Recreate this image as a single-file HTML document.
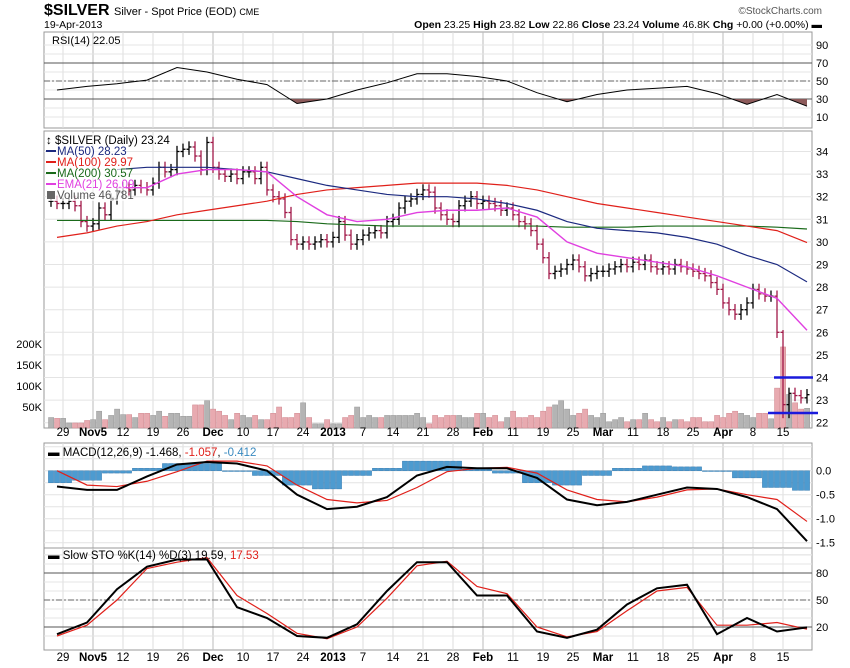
<!DOCTYPE html>
<html><head><meta charset="utf-8">
<style>
body{margin:0;background:#fff;width:850px;height:668px;overflow:hidden;font-family:"Liberation Sans",sans-serif}
svg{display:block}
text{font-family:"Liberation Sans",sans-serif}
</style></head>
<body>
<svg id="chart" width="850" height="668" viewBox="0 0 850 668" xmlns="http://www.w3.org/2000/svg">
<text x="44" y="15" font-size="16" font-weight="bold" fill="#000">$SILVER</text>
<text x="114" y="15" font-size="11" fill="#000">Silver - Spot Price (EOD) <tspan font-size="9">CME</tspan></text>
<text x="44" y="28" font-size="10.5" fill="#000">19-Apr-2013</text>
<text x="822" y="14" font-size="10" fill="#555" text-anchor="end">©StockCharts.com</text>
<text x="822" y="28" font-size="10.5" fill="#000" text-anchor="end"><tspan font-weight="bold">Open</tspan> 23.25 <tspan font-weight="bold">High</tspan> 23.82 <tspan font-weight="bold">Low</tspan> 22.86 <tspan font-weight="bold">Close</tspan> 23.24 <tspan font-weight="bold">Volume</tspan> 46.8K <tspan font-weight="bold">Chg</tspan> +0.00 (+0.00%) ▬</text>
</svg>
<script>
// ---- data ----
const closes=[31.8,31.7,
31.7,31.8,31.6,30.9,30.7,
30.8,31.5,31.2,31.9,32.2,
32.4,32.3,32.5,32.4,32.3,
32.6,33.3,33.1,33.2,34.0,
34.1,34.2,33.8,33.2,34.4,
33.3,33.0,32.9,33.0,32.8,
33.1,33.1,32.8,33.3,32.3,
32.0,31.9,31.3,30.1,29.9,
30.0,29.9,30.0,30.1,30.0,
30.2,30.9,30.3,29.9,30.1,
30.3,30.4,30.5,30.4,30.9,
31.0,31.5,31.8,31.9,32.1,
32.3,32.2,31.5,31.2,31.0,
30.9,31.6,31.8,32.0,31.7,
31.8,31.7,31.6,31.4,31.5,
31.2,30.9,30.8,30.5,29.9,
29.3,28.6,28.7,28.8,29.0,
29.2,28.9,28.5,28.6,28.7,
28.7,28.8,28.9,29.0,28.9,
29.1,29.0,29.2,28.9,28.8,
28.9,28.8,29.0,28.9,28.8,
28.7,28.6,28.5,28.2,27.9,
27.3,27.0,26.8,27.0,27.3,
27.9,27.7,27.6,27.6,26.0,
22.8,23.3,23.2,23.1,23.24];
const volumes=[25,23,
23,12,12,12,18, 20,40,20,30,45, 32,32,25,35,35, 30,40,28,35,35, 28,28,55,55,65,
45,40,30,20,35, 30,25,30,20,20, 35,50,25,25,35, 60,25,10,10,20, 10,10,25,30,50,
25,30,25,25,30, 30,30,30,30,35, 25,10,30,25,30, 30,30,25,25,35, 35,25,30,15,25,
40,25,25,30,25, 40,50,55,65,45, 30,35,45,30,25, 35,15,20,25,15, 20,20,35,20,15,
25,15,20,20,15, 25,25,15,15,30, 25,35,40,35,30, 25,35,35,22,95, 193,80,60,45,47];
const weekLabels=["29","Nov5","12","19","26","Dec","10","17","24","2013","7","14","21","28","Feb","11","19","25","Mar","11","18","25","Apr","8","15"];
const boldLabels=["Nov5","Dec","2013","Feb","Mar","Apr"];
// weekly sampled indicator values (every 5 bars from bar 1)
const ma50=[null,null,33.2,33.3,33.3,33.3,33.2,33.1,32.8,32.5,32.3,32.1,32.0,32.0,31.9,31.7,31.4,30.9,30.6,30.5,30.4,30.2,29.9,29.4,29.0,28.23];
const ma100=[30.2,30.4,30.7,30.9,31.2,31.4,31.6,31.8,32.1,32.3,32.4,32.5,32.6,32.6,32.6,32.5,32.3,32.0,31.7,31.5,31.3,31.1,30.9,30.7,30.5,29.97];
const ma200=[30.95,30.95,30.95,30.95,30.95,30.95,30.95,30.95,30.9,30.8,30.75,30.7,30.7,30.7,30.7,30.7,30.7,30.65,30.65,30.65,30.7,30.7,30.7,30.7,30.65,30.57];
const ema21=[null,null,32.4,32.4,33.0,33.2,33.2,33.1,32.0,31.2,30.9,31.0,31.3,31.4,31.4,31.5,31.1,30.0,29.5,29.3,29.1,28.9,28.5,28.0,27.5,26.09];
const rsi=[40,44,47,51,65,60,52,46,25,30,40,48,58,58,55,50,37,27,35,40,42,44,36,24,35,22.05];
const macd=[-0.33,-0.4,-0.4,-0.12,0.13,0.18,0.15,0.0,-0.5,-0.8,-0.75,-0.55,-0.1,0.08,0.05,0.05,-0.15,-0.6,-0.72,-0.65,-0.5,-0.35,-0.38,-0.55,-0.8,-1.468];
const signal=[0.0,-0.3,-0.33,-0.22,-0.02,0.2,0.2,0.1,-0.3,-0.6,-0.67,-0.62,-0.35,-0.02,0.05,0.07,-0.05,-0.4,-0.6,-0.65,-0.55,-0.4,-0.38,-0.5,-0.6,-1.057];
const hist=[-0.25,-0.2,-0.05,0.05,0.15,0.15,0.0,-0.1,-0.3,-0.38,-0.1,0.05,0.2,0.2,0.03,-0.05,-0.25,-0.3,-0.1,0.05,0.1,0.08,0.0,-0.15,-0.35,-0.41];
const stoK=[12,25,62,87,95,95,42,30,10,8,23,60,92,92,55,55,15,8,17,45,63,67,12,30,15,19.59];
const stoD=[10,22,50,85,92,97,55,35,13,7,20,52,88,93,65,57,20,9,15,38,60,64,22,22,25,17.53];
const priceTicks=[22,23,24,25,26,27,28,29,30,31,32,33,34];
const volTicks=[50,100,150,200];
const rsiTicks=[10,30,50,70,90];
const macdTicks=[0,-0.5,-1,-1.5];
const stoTicks=[20,50,80];

// ---- scales ----
const L=44,R=812;
const xBar=i=>51+6*i;
const xWeek=k=>xBar(1+5*k);
const yPrice=p=>422.7-(p-22)*22.6;
const yVol=v=>428-v*0.42;
const yRsi=v=>126-0.9*v;
const yMacd=v=>470.7-v*48;
const ySto=v=>645-0.9*v;

const svg=document.getElementById('chart');
const NS='http://www.w3.org/2000/svg';
function mk(tag,attrs,parent){const e=document.createElementNS(NS,tag);for(const k in attrs)e.setAttribute(k,attrs[k]);(parent||svg).appendChild(e);return e;}
function txt(s,attrs,parent){const e=mk('text',attrs,parent);e.textContent=s;return e;}

const panels=[{n:'rsi',t:32,b:128},{n:'price',t:131,b:428},{n:'macd',t:443,b:548},{n:'sto',t:548,b:650}];
panels.forEach(p=>{
  const g=mk('g',{});
  
  
  mk('rect',{x:L,y:p.t,width:R-L,height:p.b-p.t,fill:'#fff',stroke:'#999','stroke-width':1},g);
  const cpath=mk('clipPath',{id:'clip-'+p.n});
  mk('rect',{x:L,y:p.t,width:R-L,height:p.b-p.t},cpath);
  weekLabels.forEach((w,k)=>{
    const x=xBar(2+5*k);
    mk('line',{x1:x,x2:x,y1:p.t,y2:p.b,stroke:boldLabels.includes(w)?'#bbb':'#ddd','stroke-width':1},g);
  });
});
function hgrid(y,col,dash){const l=mk('line',{x1:L,x2:R,y1:y,y2:y,stroke:col,'stroke-width':1});if(dash)l.setAttribute('stroke-dasharray',dash);return l;}
function rtick(s,y,name){const t=txt(s,{x:816,y:y+4,'font-size':11,fill:'#000'});}

// RSI
for(let v=10;v<=90;v+=10) hgrid(yRsi(v),'#e4e4e4');
hgrid(yRsi(70),'#555');hgrid(yRsi(30),'#555');hgrid(yRsi(50),'#666','6,2,2,2');
rsiTicks.forEach(v=>rtick(v,yRsi(v),'rsi-tick'));
let rPts=rsi.map((v,k)=>[xWeek(k),yRsi(v)]);
let fillD='';
for(let k=0;k<rPts.length-1;k++){
  const a=rsi[k],b=rsi[k+1];
  if(a<30||b<30){
    const x1=rPts[k][0],x2=rPts[k+1][0];
    let pts=[];
    const ix=x1+(x2-x1)*(30-a)/(b-a);
    if(a<30&&b<30) pts=[[x1,yRsi(30)],[x1,yRsi(a)],[x2,yRsi(b)],[x2,yRsi(30)]];
    else if(a<30) pts=[[x1,yRsi(30)],[x1,yRsi(a)],[ix,yRsi(30)]];
    else pts=[[ix,yRsi(30)],[x2,yRsi(b)],[x2,yRsi(30)]];
    fillD+='M'+pts.map(p=>p.join(',')).join('L')+'Z';
  }
}
const rf=mk('path',{d:fillD,fill:'#8c5a5a'});


const rl=mk('polyline',{points:rPts.map(p=>p.join(',')).join(' '),fill:'none',stroke:'#000','stroke-width':1});


const rlg=txt('RSI(14) 22.05',{x:52,y:44,'font-size':11,fill:'#000'});



// Price panel grid
priceTicks.forEach(p=>{hgrid(yPrice(p),'#e4e4e4');rtick(p,yPrice(p),'price-tick');});
volTicks.forEach(v=>{const t=txt(v+'K',{x:42,y:yVol(v)+4,'font-size':11,'text-anchor':'end',fill:'#000'});});
const vg=mk('g',{});


volumes.forEach((v,i)=>{
  const up=i===0||closes[i]>=closes[i-1];
  const b=mk('rect',{x:xBar(i)-2.5,y:yVol(v),width:5.2,height:428-yVol(v),fill:up?'#b4b4b4':'#e8aab0',stroke:up?'#999':'#d08a92','stroke-width':0.5},vg);
  
  
});
const bg=mk('g',{'clip-path':'url(#clip-price)'});


closes.forEach((c,i)=>{
  const o=i===0?c:closes[i-1];
  const up=c>=o;
  const hi=Math.max(o,c)+(i===122?0.1:0.25), lo=Math.min(o,c)-(i===122||i===123?0.6:0.25);
  const col=up?'#000':'#a01848';
  const x=xBar(i);
  const g=mk('g',{stroke:col,'stroke-width':1.3},bg);
  
  
  mk('line',{x1:x,x2:x,y1:yPrice(hi),y2:yPrice(lo)},g);
  mk('line',{x1:x-2.5,x2:x,y1:yPrice(o),y2:yPrice(o)},g);
  mk('line',{x1:x,x2:x+2.5,y1:yPrice(c),y2:yPrice(c)},g);
});
function series(arr,fn,col,name,w,clip){
  const pts=[];arr.forEach((v,k)=>{if(v!==null)pts.push(xWeek(k)+','+fn(v));});
  const l=mk('polyline',{points:pts.join(' '),fill:'none',stroke:col,'stroke-width':w||1.2,'clip-path':'url(#clip-'+clip+')'});
  
  
}
series(ma200,yPrice,'#1a6a1a','ma200-line',1.2,'price');
series(ma100,yPrice,'#e0201a','ma100-line',1.2,'price');
series(ma50,yPrice,'#1c2a80','ma50-line',1.2,'price');
series(ema21,yPrice,'#e040e0','ema21-line',1.4,'price');
const s1=mk('line',{x1:774,x2:813,y1:yPrice(24),y2:yPrice(24),stroke:'#1a1adc','stroke-width':2.5});

const s2=mk('line',{x1:768,x2:818,y1:yPrice(22.43),y2:yPrice(22.43),stroke:'#1a1adc','stroke-width':2.5});

const lg=mk('g',{'font-size':11.5});


mk('rect',{x:46,y:133,width:80,height:68,fill:'#fff',opacity:0.7},lg);
txt('\u2195 $SILVER (Daily) 23.24',{x:46,y:144,fill:'#000'},lg);
[['MA(50) 28.23','#1c2a80'],['MA(100) 29.97','#e0201a'],['MA(200) 30.57','#1a6a1a'],['EMA(21) 26.09','#e040e0'],['Volume 46,781','#555']].forEach((e,j)=>{
  const y=155+j*11;
  if(j<4) mk('line',{x1:46,x2:56,y1:y-4,y2:y-4,stroke:e[1],'stroke-width':2},lg);
  else mk('rect',{x:47,y:y-8,width:8,height:8,fill:'#666'},lg);
  txt(e[0],{x:57,y:y,fill:e[1]},lg);
});
[436,661].forEach(yy=>{
  weekLabels.forEach((w,k)=>{
    const t=txt(w,{x:xBar(2+5*k),y:yy,'font-size':11.5,'text-anchor':'middle','font-weight':boldLabels.includes(w)?'bold':'normal',fill:'#000'});
    
    
  });
});

// MACD
for(let v=0.5;v>=-1.75;v-=0.25) hgrid(yMacd(v),'#e4e4e4');
macdTicks.forEach(v=>rtick(v.toFixed(1),yMacd(v),'macd-tick'));
const hg=mk('g',{'clip-path':'url(#clip-macd)'});


hist.forEach((h,k)=>{
  for(let j=-2;j<=2;j++){
    const x=xWeek(k)+6*j; if(x<L+2||x>R-2) continue;
    const y0=yMacd(0),y1=yMacd(h);
    const b=mk('rect',{x:x-2.6,y:Math.min(y0,y1),width:5.2,height:Math.max(0.8,Math.abs(y1-y0)),fill:'#4d9bd0',stroke:'#2a70a8','stroke-width':0.4},hg);
    
    
  }
});
series(signal,yMacd,'#e0201a','macd-signal-line',1.2,'macd');
series(macd,yMacd,'#000','macd-line',2,'macd');
const ml=txt('',{x:48,y:456,'font-size':11.5,fill:'#000'});


ml.innerHTML='<tspan font-weight="bold">▬</tspan> MACD(12,26,9) -1.468, <tspan fill="#e0201a">-1.057</tspan>, <tspan fill="#3a8ac0">-0.412</tspan>';

// STO
for(let v=10;v<=100;v+=10) hgrid(ySto(v),'#e4e4e4');
hgrid(ySto(80),'#555');hgrid(ySto(20),'#555');hgrid(ySto(50),'#666','6,2,2,2');
stoTicks.forEach(v=>rtick(v,ySto(v),'sto-tick'));
series(stoD,ySto,'#e0201a','sto-d-line',1.2,'sto');
series(stoK,ySto,'#000','sto-k-line',2,'sto');
const sl=txt('',{x:48,y:559,'font-size':11.5,fill:'#000'});


sl.innerHTML='<tspan font-weight="bold">▬</tspan> Slow STO %K(14) %D(3) 19.59, <tspan fill="#e0201a">17.53</tspan>';
</script>
</body></html>
